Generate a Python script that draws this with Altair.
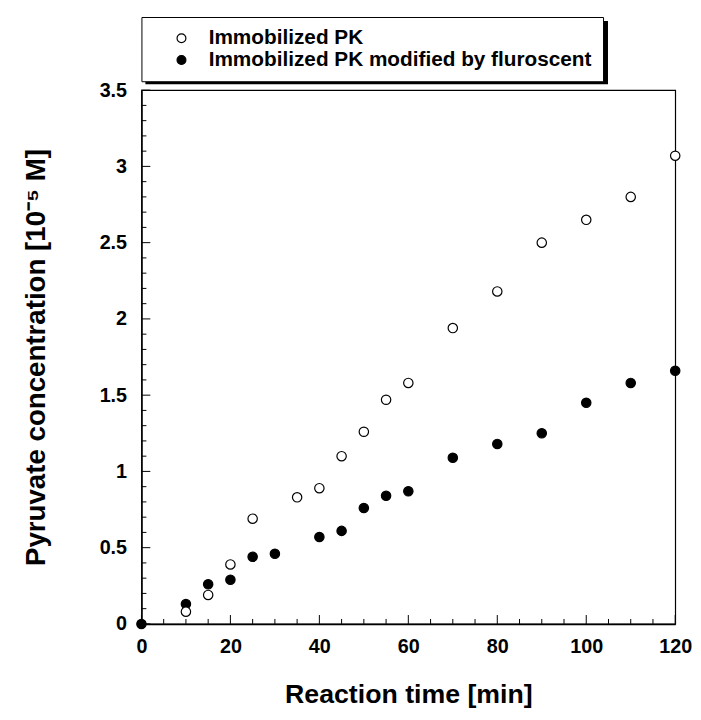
import altair as alt
import pandas as pd

# ---- data ----
series_names = ["Immobilized PK", "Immobilized PK modified by fluroscent"]

open_time = [10, 15, 20, 25, 35, 40, 45, 50, 55, 60, 70, 80, 90, 100, 110, 120]
open_conc = [0.08, 0.19, 0.39, 0.69, 0.83, 0.89, 1.10, 1.26, 1.47, 1.58, 1.94, 2.18, 2.50, 2.65, 2.80, 3.07]

filled_time = [0, 10, 15, 20, 25, 30, 40, 45, 50, 55, 60, 70, 80, 90, 100, 110, 120]
filled_conc = [0.0, 0.13, 0.26, 0.29, 0.44, 0.46, 0.57, 0.61, 0.76, 0.84, 0.87, 1.09, 1.18, 1.25, 1.45, 1.58, 1.66]

x_major = [0, 20, 40, 60, 80, 100, 120]
x_minor = [5, 10, 15, 25, 30, 35, 45, 50, 55, 65, 70, 75, 85, 90, 95, 105, 110, 115]
y_major = [0, 0.5, 1, 1.5, 2, 2.5, 3, 3.5]
y_minor = [0.1, 0.2, 0.3, 0.4, 0.6, 0.7, 0.8, 0.9, 1.1, 1.2, 1.3, 1.4, 1.6, 1.7, 1.8, 1.9,
           2.1, 2.2, 2.3, 2.4, 2.6, 2.7, 2.8, 2.9, 3.1, 3.2, 3.3, 3.4]

x_title = "Reaction time [min]"
y_title = "Pyruvate concentration [10\u207b\u2075 M]"

df = pd.DataFrame({
    "time": open_time + filled_time,
    "conc": open_conc + filled_conc,
    "series": [series_names[0]] * len(open_time) + [series_names[1]] * len(filled_time),
    "order": [1] * len(open_time) + [0] * len(filled_time),
})

FONT = "Liberation Sans"
W, H = 540, 540

xs = alt.Scale(domain=[0, 120], nice=False, zero=False)
ys = alt.Scale(domain=[0, 3.5], nice=False, zero=False)

points = alt.Chart(df).mark_point(filled=True, shape="circle", size=90, stroke="black",
                                  strokeWidth=1.2, opacity=1).encode(
    x=alt.X("time:Q", scale=xs, title=x_title, axis=alt.Axis(
        orient="bottom", values=x_major, ticks=False, tickSize=0, grid=False,
        domainColor="black", domainWidth=1.5,
        labelFont=FONT, labelFontSize=20, labelFontWeight="bold", labelColor="black",
        labelPadding=13, labelFlush=False,
        titleFont=FONT, titleFontSize=27, titleFontWeight="bold",
        titleColor="black", titleX=270, titleY=79, titleAlign="center",
        titleBaseline="alphabetic")),
    y=alt.Y("conc:Q", scale=ys, title=y_title, axis=alt.Axis(
        orient="left", values=y_major, ticks=False, tickSize=0, grid=False, format="~g",
        domainColor="black", domainWidth=1.5,
        labelFont=FONT, labelFontSize=20, labelFontWeight="bold", labelColor="black",
        labelPadding=15, labelFlush=False,
        titleFont=FONT, titleFontSize=28, titleFontWeight="bold",
        titleColor="black", titleX=-98, titleY=270, titleAngle=270, titleAlign="center",
        titleBaseline="alphabetic")),
    fill=alt.Fill("series:N", scale=alt.Scale(domain=series_names, range=["white", "black"]),
                  legend=alt.Legend(
                      orient="none", legendX=0, legendY=-74, title=None, direction="vertical",
                      labelFont=FONT, labelFontSize=21, labelFontWeight="bold", labelColor="black",
                      symbolType="circle", symbolSize=80, symbolStrokeColor="black",
                      symbolStrokeWidth=1.2, strokeColor="black", fillColor="white",
                      padding=11, symbolOffset=19, labelOffset=17, rowPadding=0,
                      labelLimit=600)),
    order=alt.Order("order:Q"),
)

# tick lengths expressed in data units (9 px and 5 px)
X_PER_PX = 120 / W
Y_PER_PX = 3.5 / H


def y_ticks(values, length_px):
    tdf = pd.DataFrame({"conc": values, "x0": 0.0, "x1": length_px * X_PER_PX})
    return alt.Chart(tdf).mark_rule(color="black", strokeWidth=1).encode(
        y=alt.Y("conc:Q", scale=ys),
        x=alt.X("x0:Q", scale=xs),
        x2="x1:Q",
    )


def x_ticks(values, length_px):
    tdf = pd.DataFrame({"time": values, "y0": 0.0, "y1": length_px * Y_PER_PX})
    return alt.Chart(tdf).mark_rule(color="black", strokeWidth=1).encode(
        x=alt.X("time:Q", scale=xs),
        y=alt.Y("y0:Q", scale=ys),
        y2="y1:Q",
    )


ticks = [y_ticks(y_major, 9), y_ticks(y_minor, 5), x_ticks(x_major, 9), x_ticks(x_minor, 5)]

# decorative drop shadow of the legend box
shadow = alt.Chart(pd.DataFrame({"a": [0]})).mark_rect(color="black").encode(
    x=alt.value(4), x2=alt.value(472), y=alt.value(-70), y2=alt.value(-6)
)

chart = alt.layer(shadow, *ticks, points).properties(
    width=W, height=H,
    autosize=alt.AutoSizeParams(type="none"),
    padding={"left": 135, "top": 79, "right": 18, "bottom": 85},
).configure_view(stroke="black", strokeWidth=1.2)

chart.save("out.html", embed_options={"renderer": "svg", "actions": False})
